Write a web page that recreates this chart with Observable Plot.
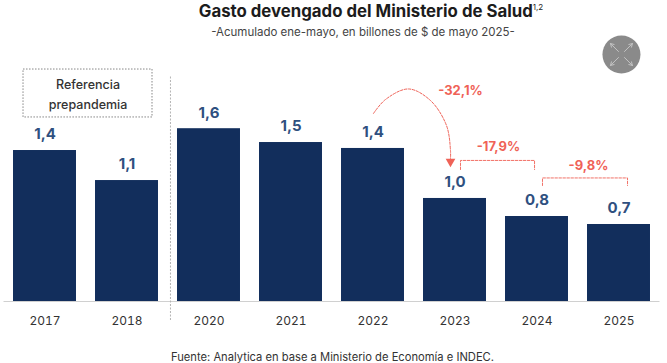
<!DOCTYPE html>
<html lang="es">
<head>
<meta charset="utf-8">
<script src="https://cdn.jsdelivr.net/npm/d3@7"></script>
<script src="https://cdn.jsdelivr.net/npm/@observablehq/plot@0.6"></script>
<style>
  html, body { margin: 0; padding: 0; background: #fff; overflow: hidden; }
  body { width: 667px; height: 363px; font-family: Inter, "Open Sans", sans-serif; }
  #head { position: relative; height: 34px; }
  #title { position: absolute; left: 0; width: 742px; top: 2px; text-align: center; font-size: 16.8px; font-weight: 700; color: #1c1c1c; line-height: 18px; white-space: nowrap; }
  #title sup { font-size: 8px; font-weight: 400; line-height: 0; }
  #subtitle { position: absolute; left: 0; width: 726px; top: 25px; text-align: center; font-size: 11.5px; color: #444; line-height: 14px; white-space: nowrap; }
  #chart svg { display: block; }
  #caption { position: absolute; left: 0; width: 665px; top: 350px; text-align: center; font-size: 11.2px; color: #333; line-height: 14px; white-space: nowrap; }
</style>
</head>
<body>
<div id="head">
  <div id="title">Gasto devengado del Ministerio de Salud<sup>1,2</sup></div>
  <div id="subtitle">-Acumulado ene-mayo, en billones de $ de mayo 2025-</div>
</div>
<div id="chart"></div>
<div id="caption">Fuente: Analytica en base a Ministerio de Economía e INDEC.</div>
<script>
const years = ["2017", "2018", "2020", "2021", "2022", "2023", "2024", "2025"];
const values = [1.398, 1.12, 1.60, 1.472, 1.417, 0.954, 0.787, 0.713];
const valueLabels = ["1,4", "1,1", "1,6", "1,5", "1,4", "1,0", "0,8", "0,7"];
const slots = years.map((_, i) => i);

const navy = "#122e5c", labelBlue = "#2f5080", red = "#ef6257", font = "Inter, 'Open Sans', sans-serif";

// Annotations, in the chart's own units (slot index, billions)
const curveX = [4.006, 4.152, 4.433, 4.701, 4.896, 4.945, 4.945];
const curveY = [1.741, 1.870, 1.968, 1.861, 1.630, 1.398, 1.324];
const curve = curveX.map((x, i) => ({x, y: curveY[i]}));
const bracketA = [[5.067, 1.222], [5.067, 1.306], [5.97, 1.306], [5.97, 1.222]];
const bracketB = [[6.067, 1.074], [6.067, 1.144], [7.104, 1.144], [7.104, 1.074]];
const changeLabels = ["-32,1%", "-17,9%", "-9,8%"];
const changeX = [5.067, 5.53, 6.628];
const changeY = [1.954, 1.435, 1.259];
const refLines = ["Referencia", "prepandemia"];
const refY = [2.009, 1.815];
const iconX = 7.03, iconY = 2.287;
const iconDirs = [[-1, 1], [1, 1], [-1, -1], [1, -1]];

const bw = 0.384;
const plot = Plot.plot({
  width: 667,
  height: 306,
  marginLeft: 3.5,
  marginRight: 7.5,
  marginTop: 0,
  marginBottom: 39,
  style: {fontFamily: font, background: "transparent"},
  x: {domain: [-0.5, 7.5]},
  y: {domain: [0, 267 / 108], axis: null},
  marks: [
    Plot.rectY(slots, {x1: i => i - bw, x2: i => i + bw, y1: 0, y2: i => values[i], fill: navy}),
    Plot.ruleY([0], {x1: -0.5, x2: 7.5, stroke: "#d0d0d0", strokeWidth: 1}),
    Plot.axisX({ticks: slots, tickFormat: i => years[i], tickSize: 0, tickPadding: 15, fontSize: 12, color: "#333", label: null, anchor: "bottom"}),
    Plot.text(slots, {x: i => i, y: i => values[i], text: i => valueLabels[i], dy: -16, fill: labelBlue, fontSize: 15, fontWeight: 700}),
    // Divider
    Plot.ruleX([1.53], {y1: -0.176, y2: 2.083, stroke: "#b4b4b4", strokeDasharray: "2,1.5", strokeWidth: 1}),
    // Reference box
    Plot.rect([0], {x1: -0.262, x2: 1.311, y1: 1.704, y2: 2.148, fill: "none", stroke: "#666", strokeDasharray: "1.5,1.5", strokeWidth: 0.8}),
    Plot.text(refLines, {x: 0.525, y: (d, i) => refY[i], text: d => d, fontSize: 12.5, fill: "#333", fontWeight: 500}),
    // Red change annotations
    Plot.line(curve, {x: "x", y: "y", curve: "catmull-rom", stroke: red, strokeDasharray: "2.5,1.5", strokeWidth: 1}),
    Plot.dot([0], {x: 4.945, y: 1.296, symbol: "triangle", r: 3.6, rotate: 180, fill: red, stroke: "none"}),
    Plot.line(bracketA, {x: d => d[0], y: d => d[1], stroke: red, strokeDasharray: "2.5,1.5", strokeWidth: 0.9}),
    Plot.line(bracketB, {x: d => d[0], y: d => d[1], stroke: red, strokeDasharray: "2.5,1.5", strokeWidth: 0.9}),
    Plot.text(changeLabels, {x: (d, i) => changeX[i], y: (d, i) => changeY[i], text: d => d, fill: red, fontSize: 13, fontWeight: 700}),
    // Expand icon
    Plot.dot([0], {x: iconX, y: iconY, r: 19, fill: "#8a8a8a", stroke: "none"}),
    Plot.arrow(iconDirs, {
      x1: d => iconX + d[0] * 3 / 82, y1: d => iconY + d[1] * 3 / 108,
      x2: d => iconX + d[0] * 11 / 82, y2: d => iconY + d[1] * 11 / 108,
      stroke: "#c4c4c4", strokeWidth: 1, headLength: 6, bend: 0
    })
  ]
});
document.getElementById("chart").append(plot);
</script>
</body>
</html>
